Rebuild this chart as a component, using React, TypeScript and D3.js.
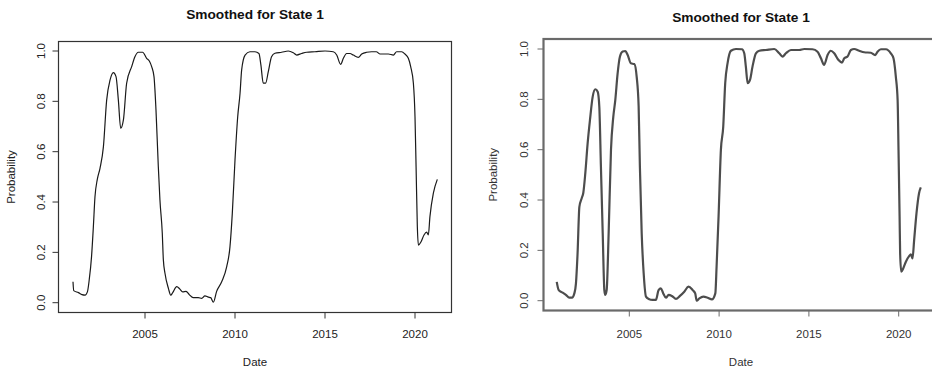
import * as d3 from "d3"

// Left panel series (decimal year, smoothed probability)
const leftYears = [
  2001.0, 2001.04, 2001.3, 2001.5, 2001.67, 2001.8, 2001.9, 2002.03, 2002.13, 2002.22, 2002.35, 2002.5,
  2002.69, 2002.87, 2003.06, 2003.24, 2003.39, 2003.52, 2003.65, 2003.8, 2003.98, 2004.26, 2004.44, 2004.63,
  2004.87, 2005.09, 2005.24, 2005.37, 2005.5, 2005.61, 2005.74, 2005.83, 2005.96, 2006.02, 2006.11, 2006.3,
  2006.43, 2006.54, 2006.76, 2006.94, 2007.09, 2007.28, 2007.46, 2007.68, 2007.96, 2008.15, 2008.33, 2008.52,
  2008.65, 2008.8, 2008.98, 2009.26, 2009.54, 2009.72, 2009.85, 2010.0, 2010.15, 2010.28, 2010.37, 2010.56,
  2010.83, 2011.11, 2011.33, 2011.44, 2011.57, 2011.7, 2011.85, 2012.03, 2012.22, 2012.59, 2012.96, 2013.24,
  2013.43, 2013.7, 2013.98, 2014.44, 2015.0, 2015.46, 2015.65, 2015.87, 2016.02, 2016.2, 2016.39, 2016.57,
  2016.85, 2017.04, 2017.31, 2017.59, 2017.85, 2018.06, 2018.52, 2018.8, 2018.98, 2019.26, 2019.44, 2019.63,
  2019.76, 2019.91, 2020.0, 2020.06, 2020.13, 2020.19, 2020.32, 2020.5, 2020.65, 2020.74, 2020.83, 2021.02,
  2021.24,
]
const leftProb = [
  0.083, 0.048, 0.04, 0.032, 0.03, 0.043, 0.09, 0.183, 0.3, 0.42, 0.49, 0.534,
  0.62, 0.805, 0.885, 0.914, 0.898, 0.805, 0.693, 0.726, 0.872, 0.938, 0.977, 0.995,
  0.995, 0.971, 0.96, 0.938, 0.898, 0.766, 0.54, 0.408, 0.276, 0.17, 0.117, 0.057,
  0.03, 0.04, 0.064, 0.054, 0.043, 0.045, 0.032, 0.02, 0.02, 0.017, 0.027, 0.022,
  0.02, 0.002, 0.045, 0.083, 0.143, 0.222, 0.355, 0.567, 0.739, 0.832, 0.925, 0.984,
  0.997, 0.997, 0.99, 0.944, 0.872, 0.872, 0.918, 0.977, 0.991, 0.995, 1.0, 0.993,
  0.984, 0.99, 0.995, 0.997, 1.0, 0.997, 0.984, 0.947, 0.971, 0.99, 0.99, 0.984,
  0.975, 0.988, 0.995, 0.997, 0.997, 0.988, 0.988, 0.984, 0.997, 0.997, 0.988, 0.971,
  0.938, 0.872, 0.739, 0.54, 0.302, 0.229, 0.24, 0.269, 0.28, 0.269, 0.342, 0.435,
  0.49,
]

// Right panel series
const rightYears = [
  2000.96, 2001.07, 2001.29, 2001.47, 2001.66, 2001.81, 2001.94, 2002.03, 2002.12, 2002.22, 2002.35, 2002.44,
  2002.55, 2002.68, 2002.81, 2002.96, 2003.11, 2003.24, 2003.33, 2003.42, 2003.52, 2003.61, 2003.66, 2003.74,
  2003.85, 2003.98, 2004.11, 2004.22, 2004.35, 2004.48, 2004.63, 2004.78, 2004.91, 2005.09, 2005.28, 2005.41,
  2005.52, 2005.59, 2005.69, 2005.8, 2005.93, 2006.08, 2006.3, 2006.48, 2006.63, 2006.76, 2006.89, 2007.04,
  2007.19, 2007.37, 2007.6, 2007.82, 2008.06, 2008.3, 2008.53, 2008.67, 2008.75, 2008.9, 2009.12, 2009.36,
  2009.6, 2009.79, 2009.86, 2009.97, 2010.1, 2010.23, 2010.34, 2010.47, 2010.66, 2010.94, 2011.27, 2011.4,
  2011.49, 2011.59, 2011.72, 2011.86, 2012.05, 2012.24, 2012.61, 2013.07, 2013.35, 2013.53, 2013.72, 2014.0,
  2014.46, 2014.74, 2015.2, 2015.48, 2015.67, 2015.85, 2016.04, 2016.22, 2016.41, 2016.65, 2016.84, 2016.97,
  2017.15, 2017.34, 2017.52, 2017.8, 2018.08, 2018.45, 2018.69, 2018.82, 2019.01, 2019.29, 2019.56, 2019.71,
  2019.84, 2019.94, 2019.99, 2020.05, 2020.08, 2020.14, 2020.25, 2020.4, 2020.58, 2020.68, 2020.77, 2020.86,
  2020.99, 2021.13, 2021.23,
]
const rightProb = [
  0.075, 0.042, 0.032, 0.023, 0.012, 0.012, 0.029, 0.069, 0.188, 0.373, 0.407, 0.429,
  0.506, 0.625, 0.718, 0.81, 0.84, 0.83, 0.771, 0.532, 0.268, 0.042, 0.023, 0.042,
  0.268, 0.599, 0.731, 0.797, 0.903, 0.97, 0.99, 0.992, 0.976, 0.943, 0.94, 0.89,
  0.771, 0.532, 0.268, 0.109, 0.016, 0.007, 0.003, 0.003, 0.042, 0.049, 0.029, 0.012,
  0.023, 0.019, 0.007, 0.019, 0.036, 0.056, 0.042, 0.029, 0.0, 0.009, 0.016, 0.012,
  0.005, 0.029, 0.135, 0.334, 0.599, 0.691, 0.864, 0.943, 0.993, 1.0, 0.999, 0.983,
  0.93, 0.864, 0.877, 0.93, 0.983, 0.993, 0.996, 1.0, 0.983, 0.97, 0.983, 0.996,
  0.996, 1.0, 0.999, 0.989, 0.963, 0.937, 0.976, 0.993, 0.983, 0.956, 0.946, 0.963,
  0.97, 0.996, 1.0, 0.993, 0.987, 0.985, 0.976, 0.989, 0.999, 0.999, 0.983, 0.963,
  0.89, 0.797, 0.599, 0.334, 0.188, 0.115, 0.128, 0.155, 0.177, 0.184, 0.168, 0.241,
  0.347, 0.426, 0.45,
]

const xTicks = [2005, 2010, 2015, 2020]
const yTicks = [0, 0.2, 0.4, 0.6, 0.8, 1.0]

const font = "'Liberation Sans', Arial, sans-serif"

interface PanelProps {
  years: number[]
  probs: number[]
  box: { left: number; right: number; top: number; bottom: number }
  x0: number // pixel of 2005
  pxPerYear: number
  yOne: number // pixel of 1.0
  yZero: number // pixel of 0.0
  lineColor: string
  lineWidth: number
  boxColor: string
  boxWidth: number
  textColor: string
  titleX: number
  titleY: number
  yLabelX: number
  yTickX: number
}

function Panel(p: PanelProps) {
  const x = d3
    .scaleLinear()
    .domain([2005, 2010])
    .range([p.x0, p.x0 + 5 * p.pxPerYear])
  const y = d3.scaleLinear().domain([0, 1]).range([p.yZero, p.yOne])

  const pts = p.years.map((yr, i) => [yr, p.probs[i]] as [number, number])
  const line = d3
    .line<[number, number]>()
    .x((d) => x(d[0]))
    .y((d) => y(d[1]))
    .curve(d3.curveMonotoneX)

  const { left, right, top, bottom } = p.box
  const tickLen = 6

  return (
    <g fontFamily={font}>
      <text x={p.titleX} y={p.titleY} textAnchor="middle" fontWeight="bold" fontSize={13.7} fill="#111">
        Smoothed for State 1
      </text>
      <path d={line(pts) ?? ""} fill="none" stroke={p.lineColor} strokeWidth={p.lineWidth} strokeLinejoin="round" />
      <rect
        x={left}
        y={top}
        width={right - left}
        height={bottom - top}
        fill="none"
        stroke={p.boxColor}
        strokeWidth={p.boxWidth}
      />
      {/* x axis */}
      {xTicks.map((t) => (
        <g key={t}>
          <line x1={x(t)} x2={x(t)} y1={bottom} y2={bottom + tickLen} stroke={p.boxColor} strokeWidth={1} />
          <text x={x(t)} y={338} textAnchor="middle" fontSize={11.5} fill={p.textColor}>
            {t}
          </text>
        </g>
      ))}
      {/* y axis */}
      {yTicks.map((t) => (
        <g key={t}>
          <line x1={left - tickLen} x2={left} y1={y(t)} y2={y(t)} stroke={p.boxColor} strokeWidth={1} />
          <text
            transform={`translate(${p.yTickX},${y(t)}) rotate(-90)`}
            textAnchor="middle"
            fontSize={11.5}
            fill={p.textColor}
          >
            {t.toFixed(1)}
          </text>
        </g>
      ))}
      <text x={p.titleX} y={366} textAnchor="middle" fontSize={11.5} fill={p.textColor}>
        Date
      </text>
      <text
        transform={`translate(${p.yLabelX},${(top + bottom) / 2}) rotate(-90)`}
        textAnchor="middle"
        fontSize={11.5}
        fill={p.textColor}
      >
        Probability
      </text>
    </g>
  )
}

export default function App() {
  return (
    <svg
      width={932}
      height={369}
      style={{ position: "absolute", left: 0, top: 0, background: "#fff" }}
    >
      <rect width={932} height={369} fill="#fff" />
      <Panel
        years={leftYears}
        probs={leftProb}
        box={{ left: 58.5, right: 451.5, top: 41.5, bottom: 312.5 }}
        x0={145}
        pxPerYear={18}
        yOne={51}
        yZero={302.7}
        lineColor="#1a1a1a"
        lineWidth={1.2}
        boxColor="#333"
        boxWidth={1.2}
        textColor="#222"
        titleX={255}
        titleY={19}
        yLabelX={15}
        yTickX={45}
      />
      <Panel
        years={rightYears}
        probs={rightProb}
        box={{ left: 543.5, right: 938, top: 39, bottom: 310.5 }}
        x0={629.3}
        pxPerYear={17.96}
        yOne={49}
        yZero={300.7}
        lineColor="#4d4d4d"
        lineWidth={2.2}
        boxColor="#6a6a6a"
        boxWidth={2.2}
        textColor="#333"
        titleX={741}
        titleY={22}
        yLabelX={497}
        yTickX={527.5}
      />
    </svg>
  )
}
